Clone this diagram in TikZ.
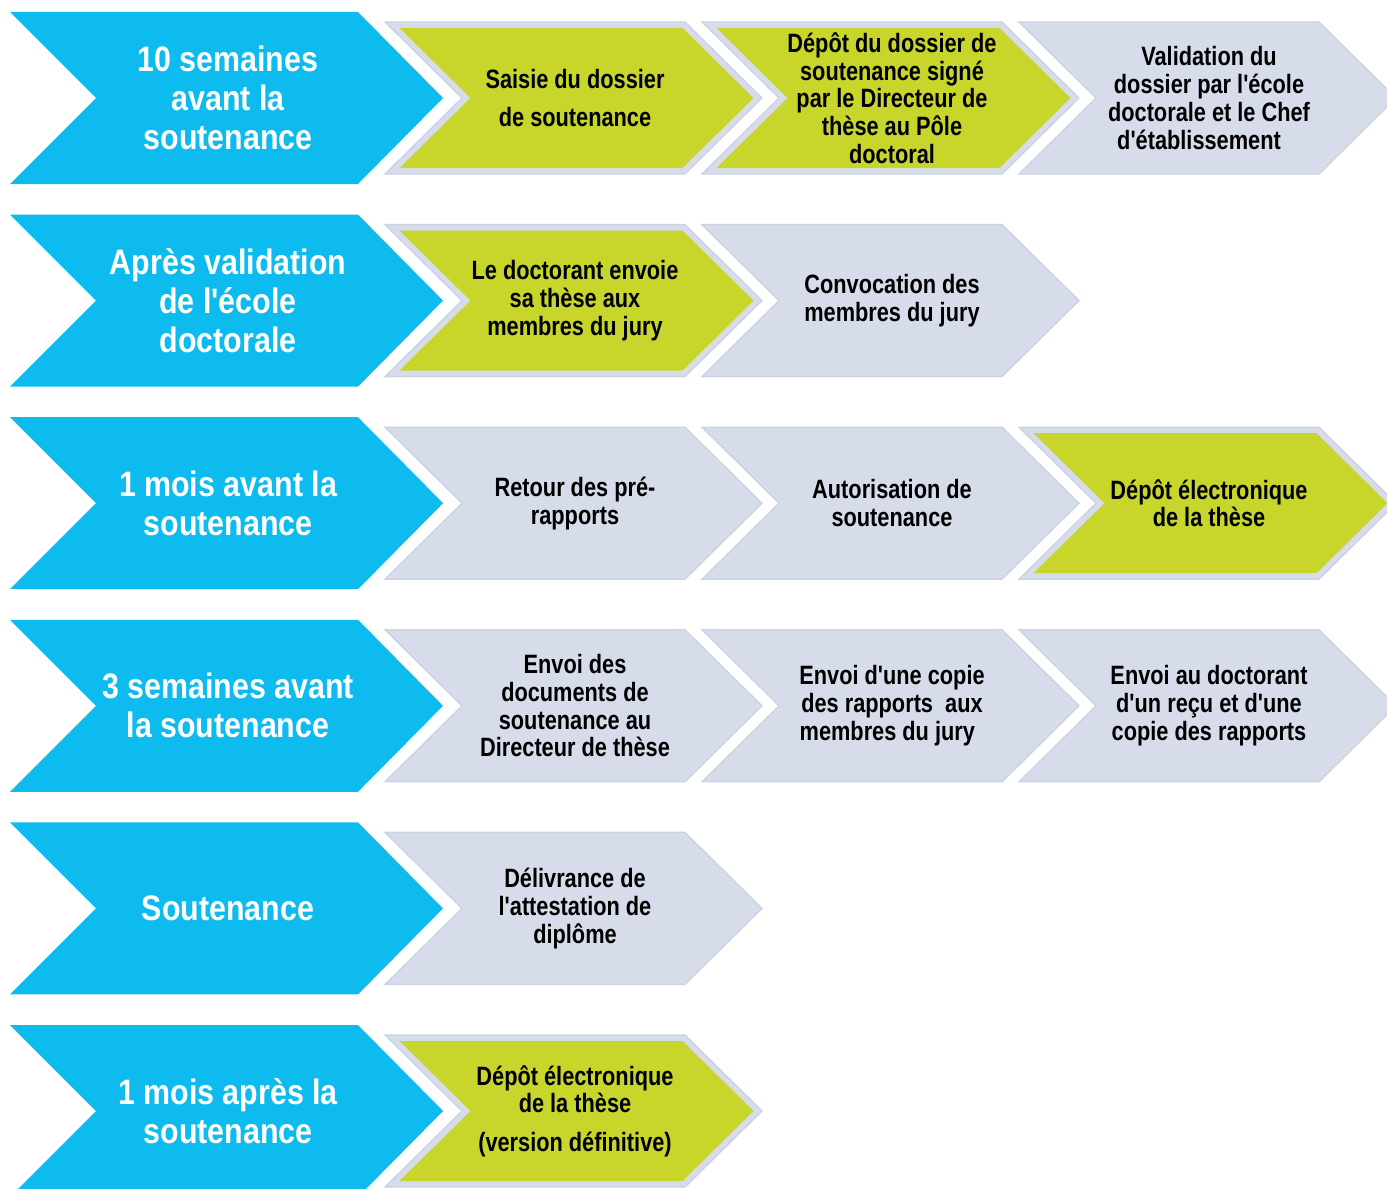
\documentclass[tikz,border=0pt]{standalone}
\usepackage{fontspec}
\usepackage{xcolor}
\usepackage{tikz}
\setmainfont{Liberation Sans}
\newfontfamily\phasefont[FakeStretch=0.86]{Liberation Sans}
\newfontfamily\stepfont[FakeStretch=0.82]{Liberation Sans}
\definecolor{phaseblue}{HTML}{0DBBEE}
\definecolor{stepgreen}{HTML}{C8D62B}
\definecolor{stepgray}{HTML}{D6DCEA}
\definecolor{stepedge}{HTML}{CBD2E2}
\tikzset{
  phasetext/.style={text=white, align=center, inner sep=0pt,
    font=\phasefont\bfseries\fontsize{26.5}{29.3}\selectfont},
  steptext/.style={text=black, align=center, inner sep=0pt,
    font=\stepfont\bfseries\fontsize{19.9}{20.8}\selectfont},
}

\begin{document}
\begin{tikzpicture}[x=0.75pt,y=-0.75pt]
            \useasboundingbox (0,0) rectangle (1387,1188);
            \clip (0,0) rectangle (1387,1188);
            %phases (big blue arrows)
            \foreach \r/\txt in {0/{10 semaines\\avant la\\soutenance},
                                 1/{Après validation\\de l'école\\doctorale},
                                 2/{1 mois avant la\\soutenance},
                                 3/{3 semaines avant\\la soutenance},
                                 4/{Soutenance},
                                 5/{1 mois après la\\soutenance}} {
                \pgfmathsetmacro\cy{98 + 202.6 * \r}
                \fill [phaseblue] (10, \cy - 86) -- (358, \cy - 86) -- (443, \cy) -- (358, \cy + 86) -- (10, \cy + 86) -- (96, \cy) -- cycle;
                \node [phasetext] (phase-\r) at (228, \cy) {\txt};
            }
            %
            %steps (small arrows)
            \foreach \r/\c/\col/\txt in {0/0/stepgreen/{Saisie du dossier\\[8pt]de soutenance},
                                         0/1/stepgreen/{Dépôt du dossier de\\soutenance signé\\par le Directeur de\\thèse au Pôle\\doctoral},
                                         0/2/stepgray/{Validation du\\dossier par l'école\\doctorale et le Chef\\d'établissement\hspace*{15pt}},
                                         1/0/stepgreen/{Le doctorant envoie\\sa thèse aux\\membres du jury},
                                         1/1/stepgray/{Convocation des\\membres du jury},
                                         2/0/stepgray/{Retour des pré-\\rapports},
                                         2/1/stepgray/{Autorisation de\\soutenance},
                                         2/2/stepgreen/{Dépôt électronique\\de la thèse},
                                         3/0/stepgray/{Envoi des\\documents de\\soutenance au\\Directeur de thèse},
                                         3/1/stepgray/{Envoi d'une copie\\des rapports~ aux\\membres du jury\hspace*{7pt}},
                                         3/2/stepgray/{Envoi au doctorant\\d'un reçu et d'une\\copie des rapports},
                                         4/0/stepgray/{Délivrance de\\l'attestation de\\diplôme},
                                         5/0/stepgreen/{Dépôt électronique\\de la thèse\\[8pt](version définitive)}} {
                \pgfmathsetmacro\cy{98 + 202.6 * \r}
                \pgfmathsetmacro\x{385 + 317 * \c}
                \draw [fill=stepgray, draw=stepedge, line width=1pt] (\x, \cy - 76) -- (\x + 300, \cy - 76) -- (\x + 377, \cy) -- (\x + 300, \cy + 76) -- (\x, \cy + 76) -- (\x + 77, \cy) -- cycle;
                \fill [\col] (\x + 14.5, \cy - 70) -- (\x + 297.5, \cy - 70) -- (\x + 368.5, \cy) -- (\x + 297.5, \cy + 70) -- (\x + 14.5, \cy + 70) -- (\x + 85.5, \cy) -- cycle;
                \node [steptext] (step-\r-\c) at (\x + 190, \cy) {\txt};
            }
            %
\end{tikzpicture}
\end{document}
